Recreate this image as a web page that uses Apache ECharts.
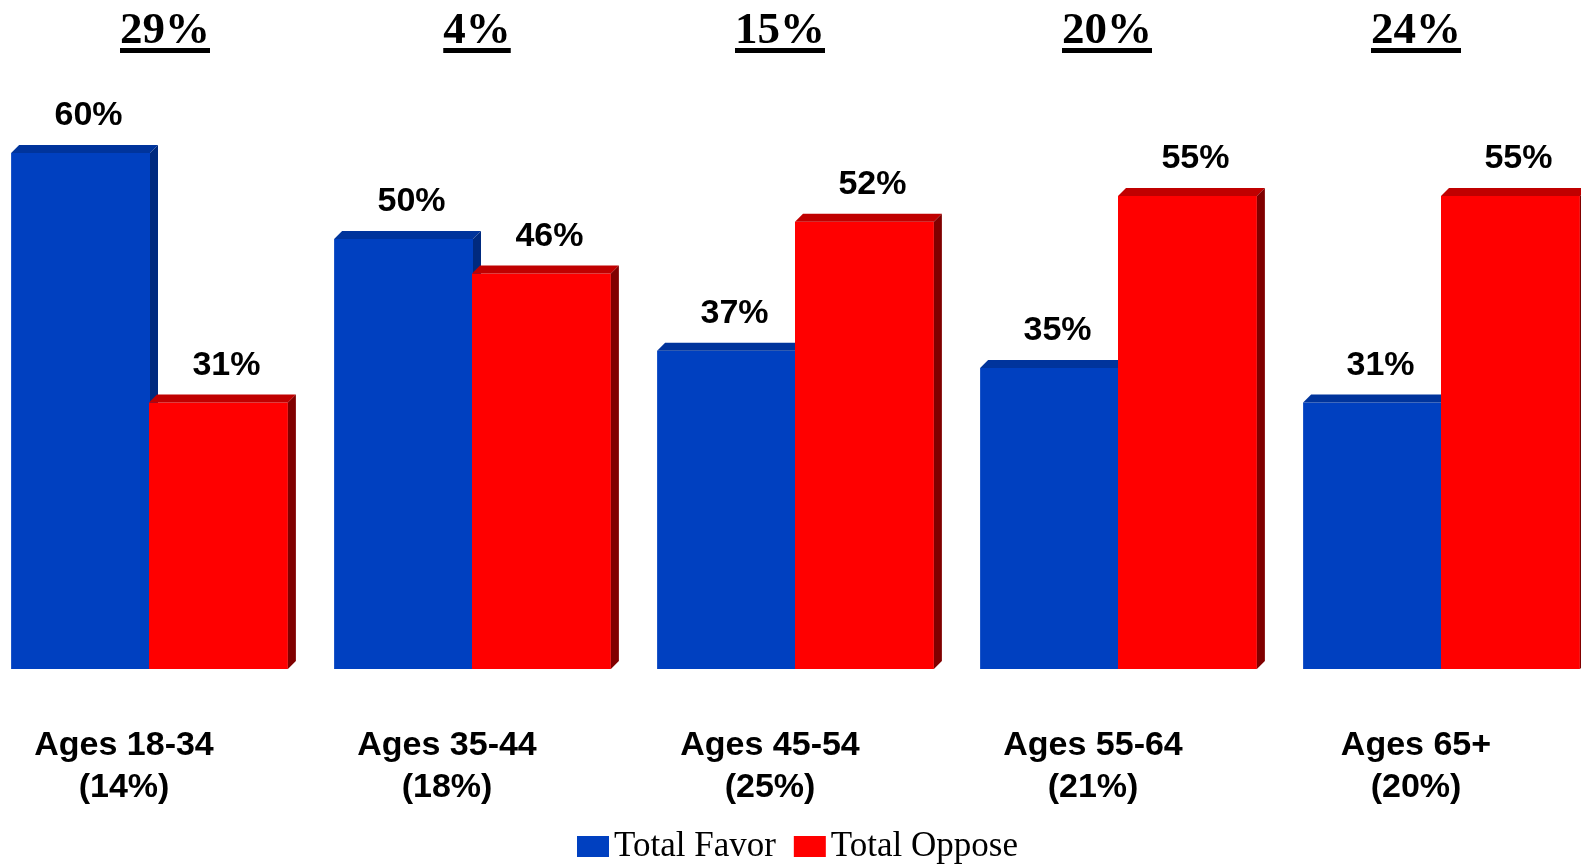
<!DOCTYPE html>
<html>
<head>
<meta charset="utf-8">
<script src="https://cdn.jsdelivr.net/npm/echarts@6/dist/echarts.min.js"></script>
<style>html,body{margin:0;padding:0;background:#fff;}#c{width:1581px;height:864px;}</style>
</head>
<body>
<div id="c"></div>
<script>
const categories = ['Ages 18-34\n(14%)', 'Ages 35-44\n(18%)', 'Ages 45-54\n(25%)', 'Ages 55-64\n(21%)', 'Ages 65+\n(20%)'];
const favor = [60, 50, 37, 35, 31];
const oppose = [31, 46, 52, 55, 55];
const netGap = [29, 4, 15, 20, 24];
const seriesNames = ['Total Favor', 'Total Oppose'];

const netLabelX = [165, 477, 780, 1107, 1416];

const chart = echarts.init(document.getElementById('c'), null, {renderer: 'canvas'});

function make3D(front, topC, sideC, isLeft) {
  return function (params, api) {
    const idx = api.value(0);
    const v = api.value(1);
    const t = api.coord([idx, v]);
    const b = api.coord([idx, 0]);
    const band = api.size([1, 0])[0];
    const w = band * 0.43;
    const c = t[0];
    const x0 = isLeft ? c - w : c - 1;
    const yt = t[1], yb = b[1];
    const d = 8;
    return {
      type: 'group',
      children: [
        {type: 'rect', shape: {x: x0, y: yt, width: w, height: yb - yt}, style: {fill: front}},
        {type: 'polygon', shape: {points: [[x0, yt], [x0 + d, yt - d], [x0 + w + d, yt - d], [x0 + w, yt]]}, style: {fill: topC}},
        {type: 'polygon', shape: {points: [[x0 + w, yt], [x0 + w + d, yt - d], [x0 + w + d, yb - d], [x0 + w, yb]]}, style: {fill: sideC}},
        {type: 'text', x: x0 + w / 2 + 8, y: yt - 20, style: {text: v + '%', fill: '#000', font: 'bold 34px "Liberation Sans", Arial, sans-serif', align: 'center', verticalAlign: 'bottom'}}
      ]
    };
  };
}

const mctx = document.createElement('canvas').getContext('2d');
const netFont = 'bold 45px "Liberation Serif", "Times New Roman", serif';
mctx.font = netFont;
const graphics = [];
netGap.forEach((n, i) => {
  const txt = n + '%';
  const tw = mctx.measureText(txt).width;
  graphics.push({type: 'text', left: netLabelX[i] - tw / 2, top: 9, style: {text: txt, font: netFont, fill: '#000'}});
  graphics.push({type: 'rect', shape: {x: netLabelX[i] - tw / 2, y: 48, width: tw, height: 5}, style: {fill: '#000'}});
});

chart.setOption({
  backgroundColor: '#fff',
  animation: false,
  grid: {left: -11.5, width: 1615, top: 67, height: 602, containLabel: false, outerBoundsMode: 'none'},
  xAxis: {
    type: 'category',
    data: categories,
    axisLine: {show: false},
    axisTick: {show: false},
    axisLabel: {
      interval: 0,
      margin: 56,
      color: '#000',
      fontFamily: '"Liberation Sans", Arial, sans-serif',
      fontWeight: 'bold',
      fontSize: 34,
      lineHeight: 42,
      padding: [0, 52, 0, 0]
    }
  },
  yAxis: {type: 'value', min: 0, max: 70, show: false, splitLine: {show: false}},
  legend: {
    data: seriesNames,
    left: 572,
    top: 824,
    icon: 'rect',
    itemWidth: 32,
    itemHeight: 21,
    itemGap: 18,
    textStyle: {fontFamily: '"Liberation Serif", "Times New Roman", serif', fontSize: 35, color: '#000'}
  },
  graphic: graphics,
  series: [
    {
      name: seriesNames[0],
      type: 'custom',
      itemStyle: {color: '#0040C0'},
      renderItem: make3D('#0040C0', '#00349C', '#002A7F', true),
      encode: {x: 0, y: 1},
      data: favor.map((v, i) => [i, v])
    },
    {
      name: seriesNames[1],
      type: 'custom',
      itemStyle: {color: '#FF0000'},
      renderItem: make3D('#FF0000', '#C00000', '#800000', false),
      encode: {x: 0, y: 1},
      data: oppose.map((v, i) => [i, v])
    }
  ]
});
</script>
</body>
</html>
